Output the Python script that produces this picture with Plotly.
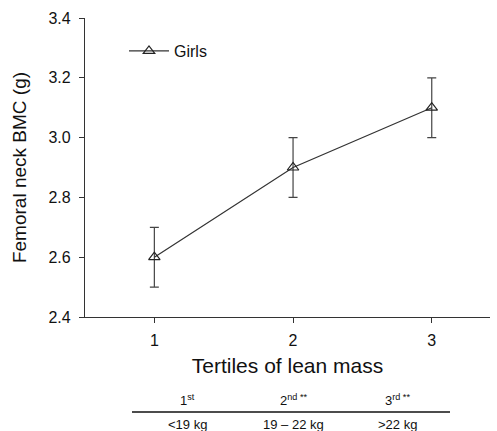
import plotly.graph_objects as go

tertiles = [1, 2, 3]
bmc_girls = [2.6, 2.9, 3.1]
bmc_err = [0.1, 0.1, 0.1]
y_ticks = [2.4, 2.6, 2.8, 3.0, 3.2, 3.4]
table_top = ["1<sup>st</sup>", "2<sup>nd **</sup>", "3<sup>rd **</sup>"]
table_bottom = ["<19 kg", "19 – 22 kg", ">22 kg"]

FONT = "Liberation Sans, Arial, sans-serif"

fig = go.Figure()
fig.add_trace(go.Scatter(
    x=tertiles, y=bmc_girls, name="Girls", mode="lines+markers",
    line=dict(color="#333333", width=1.2),
    marker=dict(symbol="triangle-up-open", size=10, color="#222222", line=dict(width=1.2)),
    error_y=dict(type="data", array=bmc_err, visible=True, color="#444444", thickness=1.2, width=4.5),
))

L, R, T, B = 85, 7, 18, 114
W, H = 497, 431
pw = W - L - R
ph = H - T - B

def px2x(px):
    return (px - L) / pw

def py2y(py):
    return (H - B - py) / ph

table_x = [187, 293, 397]
for i in range(3):
    fig.add_annotation(x=px2x(table_x[i]), y=py2y(400), xref="paper", yref="paper",
                       text=table_top[i], showarrow=False, font=dict(size=13, color="#111111"),
                       xanchor="center", yanchor="middle")
    fig.add_annotation(x=px2x(table_x[i]), y=py2y(424), xref="paper", yref="paper",
                       text=table_bottom[i], showarrow=False, font=dict(size=13, color="#111111"),
                       xanchor="center", yanchor="middle")
fig.add_shape(type="line", xref="paper", yref="paper",
              x0=px2x(132), x1=px2x(450), y0=py2y(412), y1=py2y(412),
              line=dict(color="#111111", width=1.5))

fig.update_layout(
    width=W, height=H,
    margin=dict(l=L, r=R, t=T, b=B, autoexpand=False),
    paper_bgcolor="white", plot_bgcolor="white",
    font=dict(family=FONT, color="#111111"),
    showlegend=True,
    legend=dict(x=px2x(124), y=py2y(51), xanchor="left", yanchor="middle",
                bgcolor="rgba(0,0,0,0)", font=dict(size=16), itemwidth=40),
    xaxis=dict(range=[0.5, 3.42], tickvals=tertiles, ticktext=[str(t) for t in tertiles],
               showline=True, linecolor="#333333", linewidth=1.2, ticks="outside",
               ticklen=5, tickcolor="#333333", showgrid=False, zeroline=False,
               tickfont=dict(size=16), automargin=False, ticklabelstandoff=4,
               title=dict(text="Tertiles of lean mass", font=dict(size=21), standoff=10)),
    yaxis=dict(range=[2.4, 3.4], tickvals=y_ticks, ticktext=[f"{v:.1f}" for v in y_ticks],
               showline=True, linecolor="#333333", linewidth=1.2, ticks="outside",
               ticklen=5, tickcolor="#333333", showgrid=False, zeroline=False,
               tickfont=dict(size=16), automargin=False, ticklabelstandoff=5,
               title=dict(text="Femoral neck BMC (g)", font=dict(size=19), standoff=16)),
)

fig.write_html("out.html", config={"displayModeBar": False},
               post_script="document.body.style.margin='0';document.body.style.overflow='hidden';")
